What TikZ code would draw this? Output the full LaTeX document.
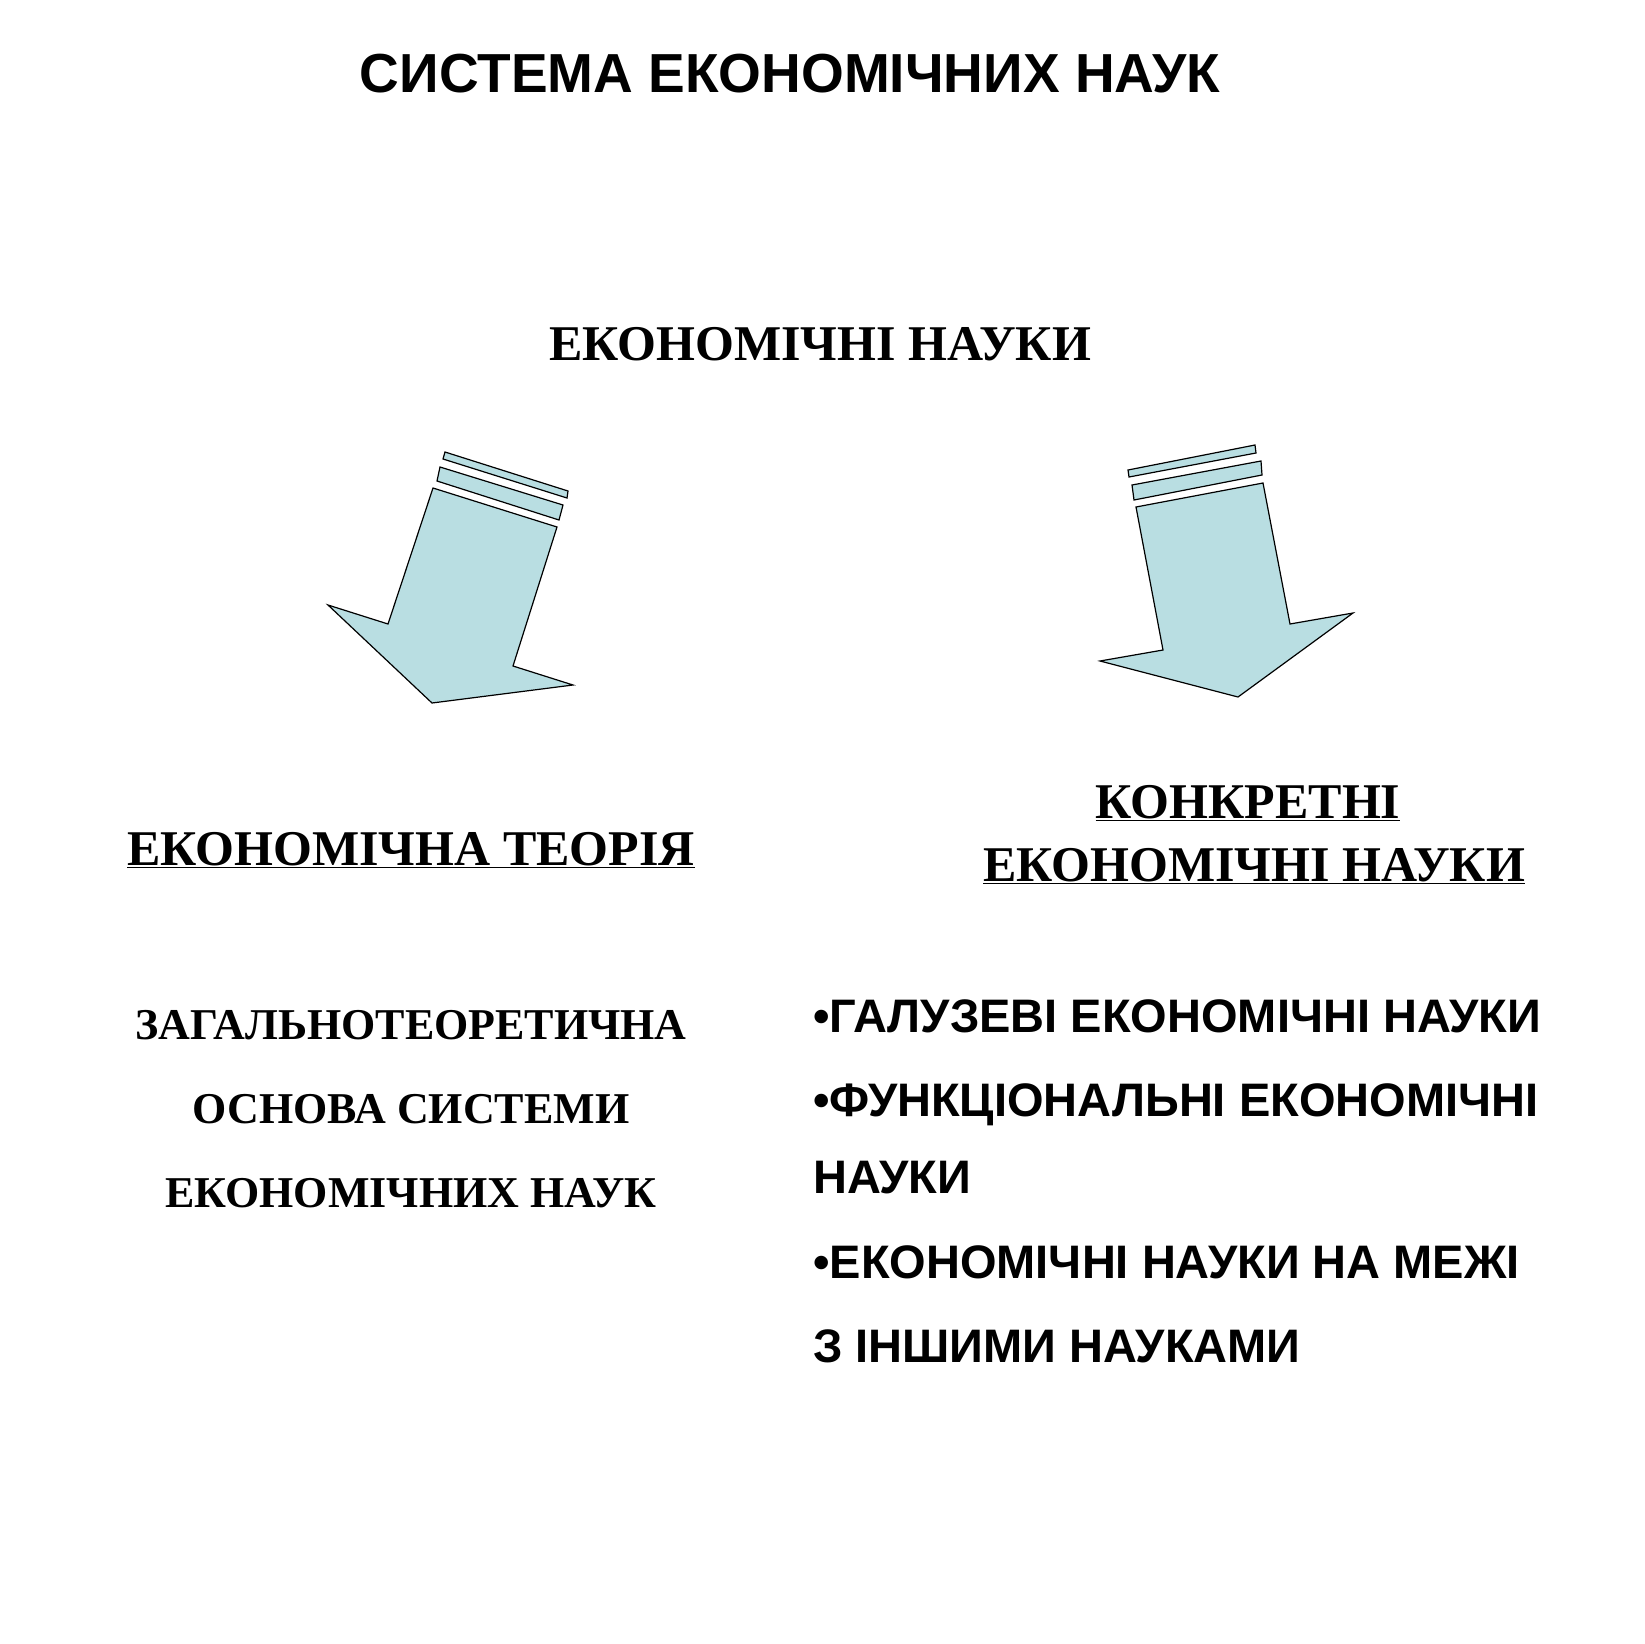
\documentclass[tikz,border=0pt]{standalone}
\usepackage{fontspec}
\setmainfont{Liberation Serif}
\newfontfamily\arialf{Liberation Sans}
\begin{document}
\begin{tikzpicture}[x=1pt,y=-1pt,
  arr/.style={fill={rgb,255:red,185;green,222;blue,226},draw=black,line width=1.2pt,line join=miter},
  tnr/.style={font=\fontsize{50}{60}\selectfont\bfseries,inner sep=0pt,anchor=base},
  lst/.style={font=\arialf\fontsize{47}{56}\selectfont\bfseries,inner sep=0pt,anchor=base west}]
\clip (0,0) rectangle (1644,1644);
\fill[white] (0,0) rectangle (1644,1644);
\node[inner sep=0pt,anchor=base,font=\arialf\fontsize{55}{66}\selectfont\bfseries] (title) at (790,92) {СИСТЕМА ЕКОНОМІЧНИХ НАУК};
\node[tnr] (en) at (820,360) {ЕКОНОМІЧНІ НАУКИ};
% left arrow
\draw[arr] (433,488) -- (557,527) -- (513,666) -- (573,685) -- (432,703) -- (328,605) -- (388,624) -- cycle;
\draw[arr] (440,467) -- (563,505) -- (559,520) -- (437,481) -- cycle;
\draw[arr] (445,452) -- (568,491) -- (567,498) -- (443,459) -- cycle;
% right arrow
\draw[arr] (1136,507) -- (1263,483) -- (1290,624) -- (1353,613) -- (1238,697) -- (1100,661) -- (1163,650) -- cycle;
\draw[arr] (1132,485) -- (1261,461) -- (1262,475) -- (1134,500) -- cycle;
\draw[arr] (1128,470) -- (1255,445) -- (1256,453) -- (1129,477) -- cycle;
\node[tnr] (et) at (411,865) {\underline{ЕКОНОМІЧНА ТЕОРІЯ}};
\node[tnr] (k1) at (1248,818) {\underline{КОНКРЕТНІ}};
\node[tnr] (k2) at (1254,881) {\underline{ЕКОНОМІЧНІ НАУКИ}};
\node[tnr,font=\fontsize{44}{52}\selectfont\bfseries] (l1) at (411,1039) {ЗАГАЛЬНОТЕОРЕТИЧНА};
\node[tnr,font=\fontsize{44}{52}\selectfont\bfseries] (l2) at (411,1123) {ОСНОВА СИСТЕМИ};
\node[tnr,font=\fontsize{44}{52}\selectfont\bfseries] (l3) at (411,1207) {ЕКОНОМІЧНИХ НАУК};
\node[lst] (r1) at (813,1032) {•ГАЛУЗЕВІ ЕКОНОМІЧНІ НАУКИ};
\node[lst] (r2) at (813,1116) {•ФУНКЦІОНАЛЬНІ ЕКОНОМІЧНІ};
\node[lst] (r3) at (813,1193) {НАУКИ};
\node[lst] (r4) at (813,1278) {•ЕКОНОМІЧНІ НАУКИ НА МЕЖІ};
\node[lst] (r5) at (813,1362) {З ІНШИМИ НАУКАМИ};
\end{tikzpicture}
\end{document}
